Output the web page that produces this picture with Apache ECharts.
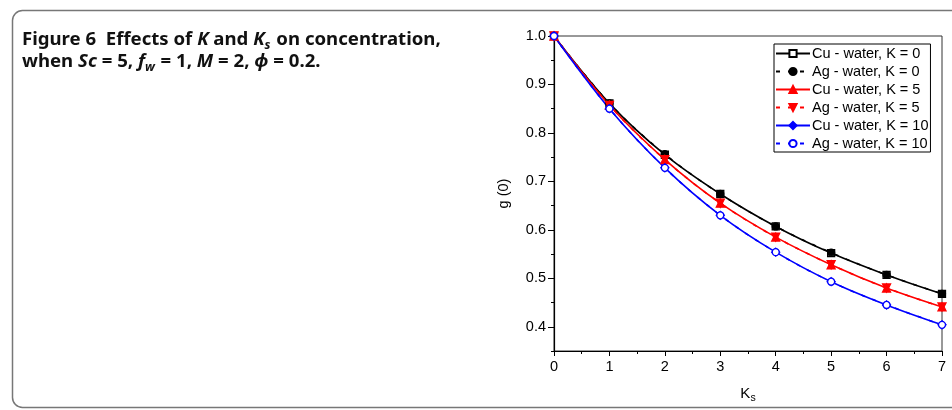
<!DOCTYPE html>
<html><head><meta charset="utf-8">
<script src="https://cdn.jsdelivr.net/npm/echarts@6/dist/echarts.min.js"></script>
<style>html,body{margin:0;padding:0;background:#fff}#c{width:952px;height:410px}</style>
</head><body><div id="c"></div>
<script>
var ks = [0, 1, 2, 3, 4, 5, 6, 7];
var cuK0  = [1.000, 0.861, 0.755, 0.674, 0.607, 0.552, 0.507, 0.468];
var agK0  = [1.000, 0.861, 0.756, 0.674, 0.607, 0.553, 0.507, 0.468];
var cuK5  = [1.000, 0.857, 0.745, 0.655, 0.585, 0.528, 0.480, 0.441];
var agK5  = [1.000, 0.857, 0.745, 0.655, 0.585, 0.528, 0.480, 0.441];
var cuK10 = [1.000, 0.850, 0.728, 0.630, 0.554, 0.493, 0.445, 0.404];
var agK10 = [1.000, 0.850, 0.728, 0.630, 0.554, 0.493, 0.445, 0.404];
var seriesNames = ['Cu - water, K = 0','Ag - water, K = 0','Cu - water, K = 5','Ag - water, K = 5','Cu - water, K = 10','Ag - water, K = 10'];
var yMajor = [0.4, 0.5, 0.6, 0.7, 0.8, 0.9, 1.0];
var yMinor = [0.35, 0.45, 0.55, 0.65, 0.75, 0.85, 0.95];

function pairs(arr){ return ks.map(function(k,i){ return [k, arr[i]]; }); }

var chart = echarts.init(document.getElementById('c'));
var axisFont = {fontFamily:'Liberation Sans', fontSize:14.5, color:'#000'};
function mk(name, data, color, symbol, size, fill, dashed, rot){
  return {
    name:name, type:'line', data:pairs(data), smooth:0.35,
    symbol:symbol, symbolSize:size, symbolRotate:rot||0, showAllSymbol:true,
    lineStyle:{color:color, width:1.6, type: dashed ? [4,8] : 'solid'},
    itemStyle:{color: fill, borderColor: color, borderWidth: 1.3},
    emphasis:{disabled:true}, animation:false
  };
}
var f = 'Noto Sans';
chart.setOption({
  animation:false,
  grid:{left:554, right:10, top:36, bottom:59, show:true, borderColor:'#333', borderWidth:1},
  graphic:[
    {type:'rect', shape:{x:12.5, y:10.5, width:1000, height:397, r:10}, style:{fill:'none', stroke:'#777', lineWidth:1.5}, silent:true},
    {type:'text', left:22, top:30, style:{
      text:'{b|Figure 6  Effects of }{i|K}{b| and }{i|K}{s|s}{b| on concentration,}\n{b|when }{i|Sc}{b| = 5, }{i|f}{s|w}{b| = 1, }{i|M}{b| = 2, }{i|ϕ}{b| = 0.2.}',
      rich:{
        b:{fontFamily:f, fontWeight:'bold', fontSize:18.6, lineHeight:22, fill:'#111', verticalAlign:'bottom'},
        i:{fontFamily:f, fontWeight:'bold', fontStyle:'italic', fontSize:18.6, lineHeight:22, fill:'#111', verticalAlign:'bottom'},
        s:{fontFamily:f, fontWeight:'bold', fontStyle:'italic', fontSize:12.5, lineHeight:22, fill:'#111', verticalAlign:'bottom', padding:[0,1,-3,0]}
      }
    }}
  ],
  legend:{
    orient:'vertical', left:774, top:44, data:seriesNames,
    itemWidth:34, itemHeight:9, itemGap:3,
    backgroundColor:'#fff', borderColor:'#000', borderWidth:1, borderRadius:0, padding:[2,2,1,1],
    textStyle:{fontFamily:'Liberation Sans', fontSize:14.5, lineHeight:15, color:'#000', padding:[0,0,0,-3]},
    selectedMode:false
  },
  xAxis:{
    type:'value', min:0, max:7, interval:1,
    name:'{a|K}{s|s}', nameLocation:'middle', nameGap:33,
    nameTextStyle:{rich:{a:{fontFamily:'Liberation Sans', fontSize:15, color:'#000'}, s:{fontFamily:'Liberation Sans', fontSize:10.5, color:'#000', padding:[9,0,0,0]}}},
    axisLine:{onZero:false, lineStyle:{color:'#000', width:1.2}},
    axisTick:{show:true, inside:false, length:5, lineStyle:{color:'#000'}},
    minorTick:{show:true, splitNumber:2, length:3, lineStyle:{color:'#000'}},
    axisLabel:Object.assign({margin:8}, axisFont),
    splitLine:{show:false}, minorSplitLine:{show:false}
  },
  yAxis:[{
    type:'value', min:0.35, max:1.0,
    name:'g (0)', nameLocation:'middle', nameGap:43, nameRotate:90,
    nameTextStyle:{fontFamily:'Liberation Sans', fontSize:14.5, color:'#000'},
    axisLine:{onZero:false, lineStyle:{color:'#000', width:1.2}},
    axisTick:{show:true, length:6, customValues:yMajor, lineStyle:{color:'#000'}},
    axisLabel:Object.assign({margin:8, customValues:yMajor, formatter:function(v){return v.toFixed(1);}}, axisFont),
    splitLine:{show:false}
  },{
    type:'value', min:0.35, max:1.0, position:'left',
    axisLine:{show:false},
    axisTick:{show:true, length:3, customValues:yMinor, lineStyle:{color:'#000'}},
    axisLabel:{show:false}, splitLine:{show:false}
  }],
  series:[
    mk(seriesNames[0], cuK0, '#000', 'rect', 7, '#fff', false),
    mk(seriesNames[1], agK0, '#000', 'circle', 7, '#000', true),
    mk(seriesNames[2], cuK5, '#ff0000', 'triangle', 8, '#ff0000', false),
    mk(seriesNames[3], agK5, '#ff0000', 'triangle', 8, '#ff0000', true, 180),
    mk(seriesNames[4], cuK10, '#0000ff', 'diamond', 8, '#0000ff', false),
    mk(seriesNames[5], agK10, '#0000ff', 'circle', 7, '#fff', true)
  ]
});
</script></body></html>
